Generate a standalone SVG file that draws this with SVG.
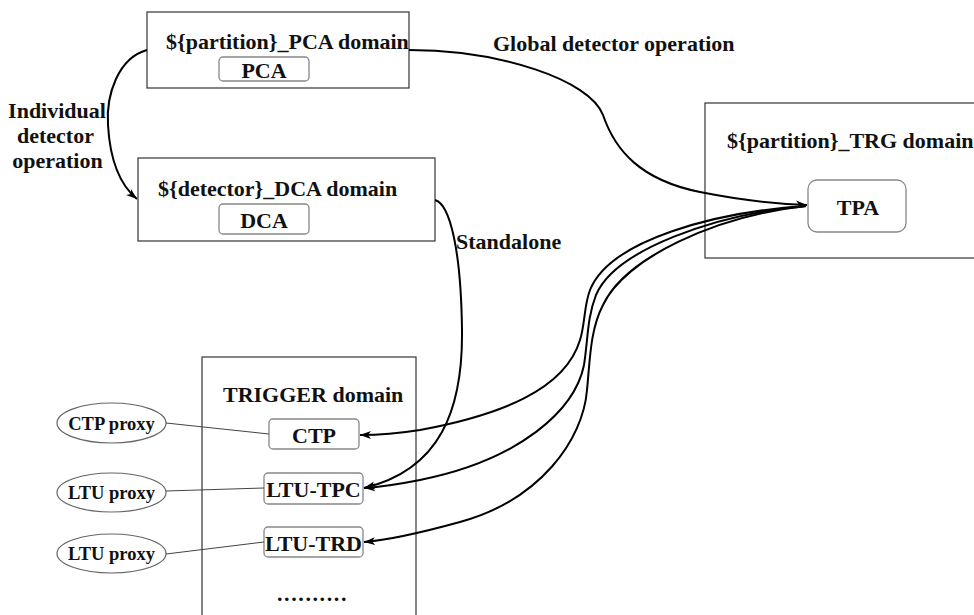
<svg xmlns="http://www.w3.org/2000/svg" width="974" height="615" viewBox="0 0 974 615">
<style>
text{font-family:"Liberation Serif","Times New Roman",serif;font-weight:bold;fill:#111;}
.t{font-size:22px;}
.s{font-size:18.5px;}
.dom{fill:#fff;stroke:#333;stroke-width:1.2;}
.inner{fill:#fff;stroke:#888;stroke-width:1.3;}
.con{fill:none;stroke:#000;stroke-width:2;}
.thin{fill:none;stroke:#444;stroke-width:1;}
.prox{fill:#fff;stroke:#666;stroke-width:1.2;}
</style>
<defs>
<marker id="arr" markerUnits="userSpaceOnUse" markerWidth="12" markerHeight="10" refX="11" refY="5" orient="auto">
<path d="M0,1 L11,5 L0,9 L3,5 Z" fill="#000"/>
</marker>
</defs>
<rect width="974" height="615" fill="#fff"/>
<g id="pca-domain">
<rect class="dom" x="147" y="12" width="262" height="76"/>
<text class="t" x="166" y="49">${partition}_PCA domain</text>
<rect class="inner" x="219" y="57" width="90" height="24" rx="4"/>
<text class="t" x="264" y="78" text-anchor="middle">PCA</text>
</g>
<g id="dca-domain">
<rect class="dom" x="138" y="158" width="297" height="83"/>
<text class="t" x="158" y="196">${detector}_DCA domain</text>
<rect class="inner" x="219" y="204" width="90" height="30" rx="4"/>
<text class="t" x="264" y="228" text-anchor="middle">DCA</text>
</g>
<g id="trg-domain">
<rect class="dom" x="705" y="103" width="275" height="155"/>
<text class="t" x="727" y="148">${partition}_TRG domain</text>
<rect class="inner" x="808" y="180" width="98" height="52" rx="9"/>
<text class="t" x="858" y="215" text-anchor="middle">TPA</text>
</g>
<g id="trigger-domain">
<rect class="dom" x="202" y="357" width="214" height="270"/>
<text class="t" x="223" y="402">TRIGGER domain</text>
<text class="t" x="277" y="601" letter-spacing="1.6">..........</text>
</g>
<g id="ctp">
<rect class="inner" x="269" y="419" width="90" height="30" rx="4"/>
<text class="t" x="314" y="443" text-anchor="middle">CTP</text>
</g>
<g id="ltu-tpc">
<rect class="inner" x="264" y="473" width="99" height="31" rx="4"/>
<text class="t" x="313.5" y="497" text-anchor="middle">LTU-TPC</text>
</g>
<g id="ltu-trd">
<rect class="inner" x="264" y="527" width="99" height="30" rx="4"/>
<text class="t" x="313.5" y="551" text-anchor="middle">LTU-TRD</text>
</g>
<g id="ctp-proxy">
<ellipse class="prox" cx="111.5" cy="423" rx="54.5" ry="20"/>
<text class="s" x="111.5" y="430" text-anchor="middle">CTP proxy</text>
</g>
<g id="ltu-proxy-1">
<ellipse class="prox" cx="111.5" cy="492.5" rx="54.5" ry="19.5"/>
<text class="s" x="111.5" y="499" text-anchor="middle">LTU proxy</text>
</g>
<g id="ltu-proxy-2">
<ellipse class="prox" cx="111.5" cy="553.5" rx="54.5" ry="19.5"/>
<text class="s" x="111.5" y="560" text-anchor="middle">LTU proxy</text>
</g>
<g id="connectors">
<path class="thin" d="M166,423 L269,434"/>
<path class="thin" d="M166,491 L264,488"/>
<path class="thin" d="M166,554 L264,542"/>
<path class="con" marker-end="url(#arr)" d="M147,50 C118,58 106,95 108,125 C110,160 120,185 137,199"/>
<path class="con" marker-end="url(#arr)" d="M409,50 C500,50 590,80 603,115 C615,150 640,180 700,192 C740,200 780,204 807,205"/>
<path class="con" marker-end="url(#arr)" d="M435,200 C450,204 461,250 462,330 C463,410 440,470 364,488"/>
<path class="con" marker-end="url(#arr)" d="M806,206 C715,212 610,240 590,290 C584,305 585,325 580,340 C565,390 500,415 420,430 C395,434 375,435 360,435"/>
<path class="con" marker-end="url(#arr)" d="M806,206 C715,214 615,250 596,295 C587,318 588,340 584,365 C575,410 520,460 420,480 C395,485 380,487 364,488"/>
<path class="con" marker-end="url(#arr)" d="M806,206 C715,216 625,258 603,305 C590,330 590,360 587,390 C583,440 540,500 460,522 C420,533 390,540 364,542"/>
</g>
<g id="labels">
<text class="t" x="57" y="118" text-anchor="middle">Individual</text>
<text class="t" x="55.5" y="143" text-anchor="middle">detector</text>
<text class="t" x="57.5" y="168" text-anchor="middle">operation</text>
<text class="t" x="493" y="51">Global detector operation</text>
<text class="t" x="456" y="249">Standalone</text>
</g>
</svg>
